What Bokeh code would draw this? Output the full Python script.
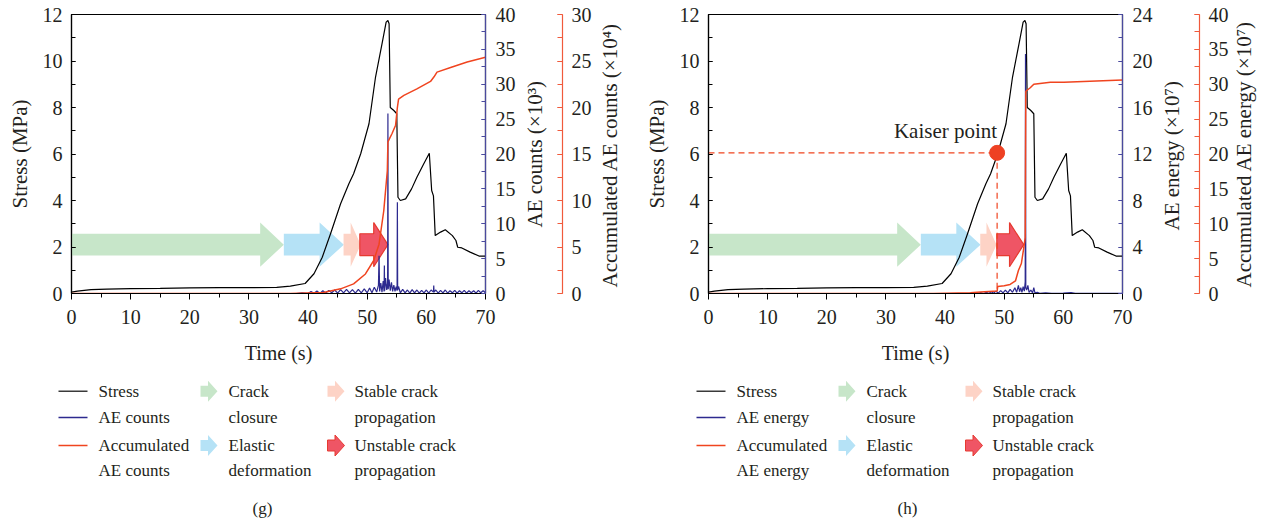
import math
from bokeh.plotting import figure
from bokeh.models import Range1d, LinearAxis, FixedTicker, Label, SingleIntervalTicker
from bokeh.layouts import row, column
from bokeh.embed import file_html
from bokeh.resources import INLINE
from bokeh.core.properties import value

# ---------------- data ----------------
time_s = [0, 1, 3.3, 6, 10, 15, 20, 25, 30, 34.7, 37, 39.5, 41.0, 42.4, 43.8, 45.5, 46.9,
          47.7, 48.9, 50.3, 51.4, 52.5, 53.2, 53.5, 53.7, 53.9, 54.5, 55.0, 55.2, 55.6,
          56.5, 57.5, 58.4, 59.5, 60.5, 60.9, 61.2, 61.5, 62.4, 63.2, 64.4, 65.0, 65.3,
          66.0, 67.4, 68.9, 70.0]
stress_mpa = [0.06, 0.1, 0.17, 0.19, 0.21, 0.22, 0.24, 0.25, 0.25, 0.26, 0.32, 0.43, 0.85,
              1.56, 2.57, 3.86, 4.72, 5.15, 6.01, 7.3, 9.3, 10.74, 11.67, 11.74, 11.6, 8.0,
              7.87, 7.73, 4.14, 4.0, 4.07, 4.5, 5.0, 5.55, 6.03, 4.43, 4.2, 2.49, 2.64, 2.74,
              2.49, 2.28, 1.99, 1.96, 1.78, 1.61, 1.61]

# (time, AE counts x10^3)
ae_counts = [(0, 0), (38, 0), (39, 0.1), (40, 0.0), (40.5, 0.3), (41, 0.05), (41.5, 0.35),
             (42, 0.0), (42.5, 0.4), (43, 0.05), (43.5, 0.45), (44, 0.1), (44.5, 0.5),
             (45, 0.05), (45.5, 0.55), (46, 0.1), (46.5, 0.6), (47, 0.1), (47.5, 0.55),
             (48, 0.05), (48.5, 0.6), (49, 0.1), (49.5, 0.65), (50, 0.1), (50.4, 0.8),
             (50.8, 0.1), (51.2, 0.9), (51.6, 0.2), (51.9, 1.2), (52.0, 5.4), (52.1, 0.3),
             (52.3, 1.5), (52.5, 0.2), (52.7, 1.8), (52.85, 0.3), (52.9, 4.0), (52.95, 0.4),
             (53.1, 2.2), (53.3, 0.5), (53.45, 1.5), (53.5, 25.8), (53.55, 0.6), (53.7, 2.0),
             (53.9, 0.4), (54.1, 1.6), (54.3, 0.3), (54.5, 1.2), (54.7, 0.3), (54.9, 1.0),
             (55.05, 0.4), (55.1, 13.1), (55.15, 0.5), (55.3, 1.0), (55.6, 0.1), (56.0, 0.6),
             (56.4, 0.1), (56.8, 0.5), (57.2, 0.05), (57.6, 0.55), (58, 0.1), (58.4, 0.5),
             (58.8, 0.05), (59.2, 0.45), (59.6, 0.1), (60.0, 0.5), (60.4, 0.05), (60.8, 0.5),
             (61.2, 0.2), (61.25, 1.15), (61.3, 0.2), (61.6, 0.5), (62, 0.05), (62.4, 0.45),
             (62.8, 0.1), (63.2, 0.5), (63.6, 0.05), (64, 0.4), (64.4, 0.1), (64.8, 0.45),
             (65.2, 0.05), (65.6, 0.4), (66, 0.1), (66.4, 0.45), (66.8, 0.05), (67.2, 0.4),
             (67.6, 0.1), (68, 0.4), (68.4, 0.05), (68.8, 0.45), (69.2, 0.1), (69.6, 0.4),
             (70, 0.1)]

# (time, accumulated AE counts x10^4)
acc_counts = [(0, 0), (37, 0), (42.6, 0.1), (45.5, 0.5), (47.7, 1.04), (49.7, 2.1),
              (51.1, 3.55), (52.0, 5.3), (52.8, 8.9), (53.4, 13.2), (53.5, 16.3),
              (54.2, 17.2), (54.8, 18.1), (55.1, 20.0), (55.3, 20.9), (56.2, 21.3),
              (58.4, 22.0), (60.7, 22.8), (61.3, 23.3), (61.8, 23.8), (64.1, 24.3),
              (66.9, 24.9), (70.0, 25.4)]

# (time, AE energy x10^7)
ae_energy = [(0, 0), (44, 0), (45, 0.05), (45.5, 0), (46, 0.08), (46.5, 0), (47, 0.1),
             (47.4, 0), (47.8, 0.15), (48.2, 0.02), (48.6, 0.2), (49, 0.03), (49.4, 0.25),
             (49.8, 0.05), (50.2, 0.3), (50.6, 0.05), (51, 0.35), (51.4, 0.1), (51.8, 0.5),
             (52.1, 0.1), (52.4, 0.7), (52.6, 0.15), (52.8, 0.5), (53, 0.1), (53.2, 0.6),
             (53.4, 0.2), (53.55, 1.0), (53.6, 20.6), (53.65, 0.5), (53.8, 0.3), (54, 0.7),
             (54.2, 0.1), (54.5, 0.3), (54.8, 0.05), (55.0, 0.5), (55.2, 0.05), (55.6, 0.1),
             (56, 0.02), (57, 0.05), (58, 0.02), (60, 0.03), (61.3, 0.08), (62, 0.01),
             (65, 0.02), (70, 0.01)]

# (time, accumulated AE energy x10^7)
acc_energy = [(0, 0), (38, 0), (44.3, 0.1), (46.0, 0.2), (48.8, 0.35), (48.9, 1.0),
              (50.0, 1.1), (51.0, 1.3), (51.9, 1.8), (52.4, 3.3), (52.9, 4.3), (53.3, 6.5),
              (53.55, 8.0), (53.65, 29.0), (54.4, 29.5), (55.0, 30.0), (57.8, 30.3),
              (60.1, 30.3), (70.0, 30.6)]

# loading phases: (start time, tip time)
phases_g = [(0, 35.9), (35.9, 46.05), (46.0, 48.9), (48.75, 53.5)]
phases_h = [(0, 35.9), (35.9, 46.0), (45.95, 48.7), (48.75, 53.3)]
kaiser_time = 48.8
kaiser_stress = 6.05

# ---------------- style ----------------
FONT = "Liberation Serif"
TXT = "#231f20"
BLUE = "#2d2a8f"
BLUE_AX = "#4a4a9e"
RED = "#f0441f"
RED_AX = "#f05a3c"
PHASE_FILL = ["#c7e6c9", "#b5e2f6", "#fdd3c6", "#ef5565"]
PHASE_LINE = [None, None, None, "#e63a30"]
HEAD_LEN = [4.0, 4.1, 1.7, 2.4]
FW, FH, FT, FB = 414, 279, 14, 82


def arrow_xy(x0, x1, head, yc=2.1, bh=0.47, hh=0.95):
    xb = x1 - head
    xs = [x0, xb, xb, x1, xb, xb, x0]
    ys = [yc - bh, yc - bh, yc - hh, yc, yc + hh, yc + bh, yc + bh]
    return xs, ys


def style_axis(ax, color, size="20px"):
    ax.major_label_text_font = FONT
    ax.major_label_text_font_size = size
    ax.major_label_text_color = TXT
    ax.axis_label_text_font = FONT
    ax.axis_label_text_font_size = "21px"
    ax.axis_label_text_font_style = "normal"
    ax.axis_label_text_color = TXT
    ax.axis_line_color = color
    ax.major_tick_line_color = color
    ax.minor_tick_line_color = color
    ax.axis_line_width = 1.2


def title_axis(range_name, rmax, text, start_px, standoff):
    # an axis that only carries an upright (bottom-to-top) title starting at start_px
    v = round((FT + FH - start_px) / FH * rmax, 3)
    return LinearAxis(y_range_name=range_name, ticker=FixedTicker(ticks=[v]),
                      major_label_overrides={v: text},
                      major_label_orientation=math.pi / 2,
                      major_tick_in=0, major_tick_out=0, minor_tick_in=0, minor_tick_out=0,
                      axis_line_color=None, major_tick_line_color=None,
                      minor_tick_line_color=None, major_label_standoff=standoff,
                      major_label_text_font=FONT, major_label_text_font_size="21px",
                      major_label_text_color=TXT)


def main_panel(ae_pts, acc_pts, ae_max, ae_step, acc_max, ae_title, acc_title,
               title_starts, red_standoff, phases, bl, br, kaiser):
    p = figure(width=bl + FW + br, height=FT + FH + FB, frame_width=FW, frame_height=FH,
               x_range=Range1d(0, 70), y_range=Range1d(0, 12),
               toolbar_location=None, output_backend="svg",
               min_border_left=bl, min_border_right=br, min_border_top=FT,
               min_border_bottom=FB)
    p.grid.visible = False
    p.outline_line_color = "black"
    p.outline_line_width = 1.2
    p.extra_y_ranges = {"ae": Range1d(0, ae_max), "acc": Range1d(0, acc_max)}

    xa = p.xaxis[0]
    style_axis(xa, "black")
    xa.axis_label_text_font_size = "20px"
    xa.ticker = SingleIntervalTicker(interval=10, num_minor_ticks=2)
    xa.axis_label = "Time (s)"
    xa.major_tick_in = 0
    xa.major_tick_out = 6
    xa.minor_tick_in = 0
    xa.minor_tick_out = 4
    xa.major_label_standoff = 10
    xa.axis_label_standoff = 15

    ya = p.yaxis[0]
    style_axis(ya, "black")
    ya.ticker = SingleIntervalTicker(interval=2, num_minor_ticks=2)
    ya.axis_label = "Stress (MPa)"
    ya.major_tick_in = 4
    ya.major_tick_out = 0
    ya.minor_tick_in = 4
    ya.minor_tick_out = 0
    ya.major_label_standoff = 9
    ya.axis_label_standoff = 8

    ba = LinearAxis(y_range_name="ae",
                    ticker=SingleIntervalTicker(interval=ae_step, num_minor_ticks=2))
    style_axis(ba, BLUE_AX)
    ba.major_tick_in = 4
    ba.major_tick_out = 0
    ba.minor_tick_in = 4
    ba.minor_tick_out = 0
    ba.major_label_standoff = 10
    p.add_layout(ba, "right")

    p.add_layout(title_axis("ae", ae_max, ae_title, title_starts[0], 17), "right")

    ra = LinearAxis(y_range_name="acc",
                    ticker=SingleIntervalTicker(interval=5, num_minor_ticks=2))
    style_axis(ra, RED_AX)
    ra.major_tick_in = 5
    ra.major_tick_out = 0
    ra.minor_tick_in = 5
    ra.minor_tick_out = 0
    ra.major_label_standoff = 9
    p.add_layout(ra, "right")

    p.add_layout(title_axis("acc", acc_max, acc_title, title_starts[1], red_standoff),
                 "right")

    for i, (x0, x1) in enumerate(phases):
        xs, ys = arrow_xy(x0, x1, HEAD_LEN[i])
        p.patch(xs, ys, fill_color=PHASE_FILL[i], line_color=PHASE_LINE[i],
                line_width=1.2)

    if kaiser:
        p.line([0, kaiser_time], [kaiser_stress, kaiser_stress], line_color=RED,
               line_width=1.2, line_dash="6 4")
        p.line([kaiser_time, kaiser_time], [kaiser_stress, 0], line_color=RED,
               line_width=1.2, line_dash="6 4")

    p.line(time_s, stress_mpa, line_color="black", line_width=1.2)
    p.line([a for a, b in ae_pts], [b for a, b in ae_pts], line_color=BLUE,
           line_width=1.2, y_range_name="ae")
    p.line([a for a, b in acc_pts], [b for a, b in acc_pts], line_color=RED,
           line_width=1.5, y_range_name="acc")

    if kaiser:
        p.scatter([kaiser_time], [kaiser_stress], size=15, fill_color="#ee4123",
                  line_color="#ee4123")
        p.add_layout(Label(x=kaiser_time, y=7.0, text="Kaiser point", text_align="right",
                           text_baseline="alphabetic", text_font=FONT,
                           text_font_size="21px", text_color=TXT))
    return p


def legend_panel(w, ox, series_label, tag, tag_x):
    h = 152
    p = figure(width=w, height=h, x_range=Range1d(0, w), y_range=Range1d(h, 0),
               toolbar_location=None, output_backend="svg", min_border=0,
               x_axis_location=None, y_axis_location=None)
    p.grid.visible = False
    p.outline_line_color = None
    rows = [15.7, 42, 70, 95]
    for yy, col in zip(rows[:3], ["#3a3a3a", BLUE, RED]):
        p.line([ox + 58, ox + 87], [yy, yy], line_color=col, line_width=1.5)
    icons = [(ox + 200, rows[0], 0), (ox + 200, rows[2], 1),
             (ox + 327, rows[0], 2), (ox + 327, rows[2], 3)]
    for x0, yy, i in icons:
        xs = [x0, x0 + 7.5, x0 + 7.5, x0 + 17, x0 + 7.5, x0 + 7.5, x0]
        ys = [yy - 5.5, yy - 5.5, yy - 10.5, yy, yy + 10.5, yy + 5.5, yy + 5.5]
        p.patch(xs, ys, fill_color=PHASE_FILL[i], line_color=PHASE_LINE[i], line_width=1)
    tx = [ox + 98, ox + 98, ox + 98, ox + 98,
          ox + 228, ox + 228, ox + 228, ox + 228,
          ox + 354, ox + 354, ox + 354, ox + 354]
    ty = rows * 3
    tt = ["Stress", series_label, "Accumulated", series_label,
          "Crack", "closure", "Elastic", "deformation",
          "Stable crack", "propagation", "Unstable crack", "propagation"]
    p.text(x=tx, y=ty, text=tt, text_font=value(FONT), text_font_size="17px",
           text_baseline="middle", text_align="left", text_color=TXT)
    p.text(x=[tag_x], y=[133], text=[tag], text_font=value(FONT), text_font_size="17px",
           text_baseline="middle", text_align="center", text_color=TXT)
    return p


pg = main_panel(ae_counts, acc_counts, 40, 5, 30, "AE counts (×10³)",
                "Accumulated AE counts (×10⁴)", (227, 287), 16, phases_g, 71, 152, False)
ph = main_panel(ae_energy, acc_energy, 24, 4, 40, "AE energy (×10⁷)",
                "Accumulated AE energy (×10⁷)", (230, 287), 13, phases_h, 71, 149, True)
lg = legend_panel(637, 0, "AE counts", "(g)", 262)
lh = legend_panel(634, 1, "AE energy", "(h)", 270)

layout = column(row(pg, ph, spacing=0), row(lg, lh, spacing=0), spacing=0)
open("out.html", "w").write(file_html(layout, INLINE))
